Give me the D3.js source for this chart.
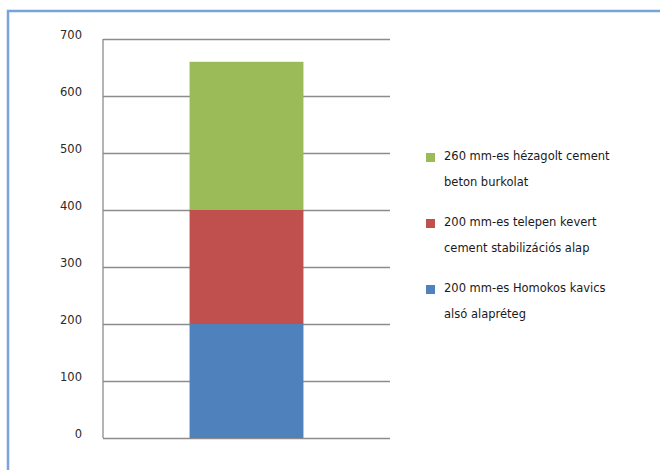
<!DOCTYPE html>
<html><head><meta charset="utf-8">
<script src="https://cdn.jsdelivr.net/npm/d3@7"></script>
<style>body{margin:0;background:#fff}svg{display:block}</style>
</head><body>
<script>
const categories = ["Rétegrend"];
const seriesNames = [
  ["200 mm-es Homokos kavics", "alsó alapréteg"],
  ["200 mm-es telepen kevert", "cement stabilizációs alap"],
  ["260 mm-es hézagolt cement", "beton burkolat"]
];
const seriesValues = [[200], [200], [260]];
const colors = ["#4f81bd", "#c0504d", "#9bbb59"];
const yTicks = [0, 100, 200, 300, 400, 500, 600, 700];

const W = 660, H = 470;
const svg = d3.select("body").append("svg").attr("width", W).attr("height", H);

// frame
svg.append("path").attr("d", `M8,${H+5} L8,11 L${W+5},11`)
  .attr("fill","none").attr("stroke","#79a3dc").attr("stroke-width",2.5);

const x0 = 103, x1 = 390, yTop = 39, yBot = 438;
const y = d3.scaleLinear().domain([0, 700]).range([yBot, yTop]);
const x = d3.scaleBand().domain(categories).range([x0, x1]).paddingInner(0).paddingOuter(0.76);

// gridlines
const yAxis = d3.axisLeft(y).tickValues(yTicks).tickSize(-(x1 - x0)).tickFormat(d3.format("d"));
const g = svg.append("g").attr("transform", `translate(${x0},0)`).call(yAxis);
g.select(".domain").remove();
g.selectAll(".tick line").attr("stroke","#8c8c8c").attr("stroke-width",1.3);
g.selectAll(".tick text").attr("x",-21).attr("dy","-0.05em")
  .attr("font-family","DejaVu Sans, sans-serif").attr("font-size",11.5).attr("fill","#2a2a2a");

// left axis line
svg.append("line").attr("x1",x0).attr("x2",x0).attr("y1",yTop).attr("y2",yBot)
  .attr("stroke","#8c8c8c").attr("stroke-width",1.3);

// stacked bars
const table = categories.map((c,i)=>{const o={cat:c}; seriesValues.forEach((s,k)=>o["s"+k]=s[i]); return o;});
const stack = d3.stack().keys(seriesValues.map((s,k)=>"s"+k))(table);
svg.append("g").selectAll("g").data(stack).join("g").attr("fill",(d,i)=>colors[i])
  .selectAll("rect").data(d=>d).join("rect")
  .attr("x", d=>x(d.data.cat)).attr("width", x.bandwidth())
  .attr("y", d=>y(d[1])).attr("height", d=>y(d[0])-y(d[1]));

// legend (top to bottom: reversed)
const legItems = [2,1,0];
const lg = svg.append("g").attr("font-family","DejaVu Sans, sans-serif").attr("font-size",11.5).attr("fill","#1a1a1a");
legItems.forEach((k,i)=>{
  const yy = 156 + i*66;
  lg.append("rect").attr("x",426).attr("y",yy-3).attr("width",9).attr("height",9).attr("fill",colors[k]);
  seriesNames[k].forEach((t,j)=>{
    lg.append("text").attr("x",444).attr("y",yy + j*26).attr("dy","0.35em").text(t);
  });
});
</script>
</body></html>
